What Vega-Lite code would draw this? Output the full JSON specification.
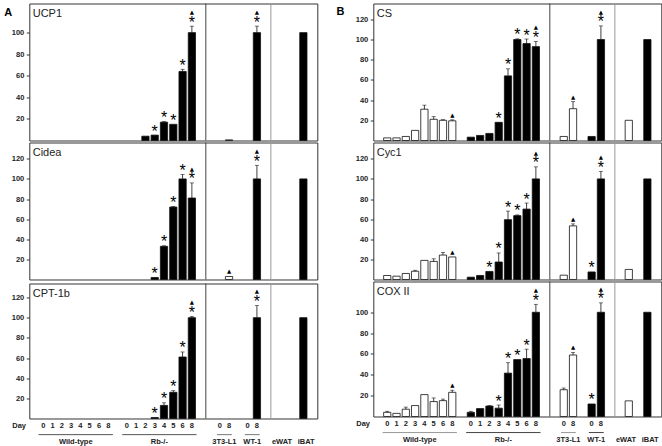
{
"$schema":"https://vega.github.io/schema/vega-lite/v6.json",
"padding":{"left":3.3,"top":2.5,"right":0,"bottom":0},
"config":{"view":{"stroke":"#333","strokeWidth":1},"font":"Liberation Sans",
 "axisY":{"labelFont":"Liberation Sans","labelFontSize":7.5,"labelFontWeight":"bold","labelColor":"#222","tickColor":"#333","tickSize":3,"labelPadding":2.5,"domain":false,"grid":false,"title":null,"labelOverlap":false,"tickCount":12},
 "text":{"font":"Liberation Sans","color":"#222"}},
"datasets":{
"A":[
{"g":"UCP1","c":"rb2","v":4,"h":4,"f":"f"},
{"g":"UCP1","c":"rb3","v":5,"h":5,"f":"f","s":1},
{"g":"UCP1","c":"rb4","v":17,"h":17.6,"f":"f","s":1},
{"g":"UCP1","c":"rb5","v":15,"h":15,"f":"f","s":1},
{"g":"UCP1","c":"rb6","v":64,"h":66,"f":"f","s":1},
{"g":"UCP1","c":"rb8","v":100,"h":106,"f":"f","s":1,"t":1},
{"g":"UCP1","c":"L8","v":0.6,"h":0.6,"f":"o"},
{"g":"UCP1","c":"W8","v":100,"h":106,"f":"f","s":1,"t":1},
{"g":"UCP1","c":"iBAT","v":100,"h":100,"f":"f"},
{"g":"Cidea","c":"rb3","v":2,"h":2,"f":"f","s":1},
{"g":"Cidea","c":"rb4","v":33,"h":33.5,"f":"f","s":1},
{"g":"Cidea","c":"rb5","v":72,"h":72.5,"f":"f","s":1},
{"g":"Cidea","c":"rb6","v":100,"h":104.5,"f":"f","s":1},
{"g":"Cidea","c":"rb8","v":81,"h":96,"f":"f","s":1,"t":1},
{"g":"Cidea","c":"L8","v":3,"h":3,"f":"o","t":1},
{"g":"Cidea","c":"W8","v":100,"h":113.5,"f":"f","s":1,"t":1},
{"g":"Cidea","c":"iBAT","v":100,"h":100,"f":"f"},
{"g":"CPT","c":"rb3","v":1,"h":1,"f":"f","s":1},
{"g":"CPT","c":"rb4","v":13,"h":15.6,"f":"f","s":1},
{"g":"CPT","c":"rb5","v":26,"h":27.6,"f":"f","s":1},
{"g":"CPT","c":"rb6","v":61,"h":66,"f":"f","s":1},
{"g":"CPT","c":"rb8","v":100,"h":101.3,"f":"f","s":1,"t":1},
{"g":"CPT","c":"W8","v":100,"h":112,"f":"f","s":1,"t":1},
{"g":"CPT","c":"iBAT","v":100,"h":100,"f":"f"}
],
"B":[
{"g":"CS","c":"wt0","v":2.6,"h":2.6,"f":"o"},
{"g":"CS","c":"wt1","v":2.6,"h":2.6,"f":"o"},
{"g":"CS","c":"wt2","v":4,"h":4,"f":"o"},
{"g":"CS","c":"wt3","v":10,"h":10,"f":"o"},
{"g":"CS","c":"wt4","v":31,"h":35,"f":"o"},
{"g":"CS","c":"wt5","v":21,"h":23.6,"f":"o"},
{"g":"CS","c":"wt6","v":20,"h":20.6,"f":"o"},
{"g":"CS","c":"wt8","v":19.5,"h":20.5,"f":"o","t":1},
{"g":"CS","c":"rb0","v":3.3,"h":3.3,"f":"f"},
{"g":"CS","c":"rb1","v":5,"h":5,"f":"f"},
{"g":"CS","c":"rb2","v":7,"h":7,"f":"f"},
{"g":"CS","c":"rb3","v":18,"h":18,"f":"f","s":1},
{"g":"CS","c":"rb4","v":64,"h":71,"f":"f","s":1},
{"g":"CS","c":"rb5","v":100,"h":100.7,"f":"f","s":1},
{"g":"CS","c":"rb6","v":96,"h":100.5,"f":"f","s":1},
{"g":"CS","c":"rb8","v":93,"h":98,"f":"f","s":1,"t":1},
{"g":"CS","c":"L0","v":4,"h":4,"f":"o"},
{"g":"CS","c":"L8","v":31.5,"h":38.5,"f":"o","t":1},
{"g":"CS","c":"W0","v":4,"h":4,"f":"f"},
{"g":"CS","c":"W8","v":100,"h":113.5,"f":"f","s":1,"t":1},
{"g":"CS","c":"eWAT","v":20,"h":20,"f":"o"},
{"g":"CS","c":"iBAT","v":100,"h":100,"f":"f"},
{"g":"Cyc1","c":"wt0","v":4,"h":4,"f":"o"},
{"g":"Cyc1","c":"wt1","v":3.3,"h":3.3,"f":"o"},
{"g":"Cyc1","c":"wt2","v":6,"h":6,"f":"o"},
{"g":"Cyc1","c":"wt3","v":8.2,"h":9.2,"f":"o"},
{"g":"Cyc1","c":"wt4","v":19,"h":19,"f":"o"},
{"g":"Cyc1","c":"wt5","v":18,"h":20.6,"f":"o"},
{"g":"Cyc1","c":"wt6","v":24.3,"h":26.9,"f":"o"},
{"g":"Cyc1","c":"wt8","v":22.4,"h":22.4,"f":"o","t":1},
{"g":"Cyc1","c":"rb0","v":2.3,"h":2.3,"f":"f"},
{"g":"Cyc1","c":"rb1","v":4,"h":4,"f":"f"},
{"g":"Cyc1","c":"rb2","v":8,"h":8,"f":"f","s":1},
{"g":"Cyc1","c":"rb3","v":17.4,"h":26.4,"f":"f","s":1},
{"g":"Cyc1","c":"rb4","v":59.5,"h":68,"f":"f","s":1},
{"g":"Cyc1","c":"rb5","v":63.5,"h":64.2,"f":"f","s":1},
{"g":"Cyc1","c":"rb6","v":70,"h":76,"f":"f","s":1},
{"g":"Cyc1","c":"rb8","v":100,"h":112,"f":"f","s":1,"t":1},
{"g":"Cyc1","c":"L0","v":4.3,"h":4.3,"f":"o"},
{"g":"Cyc1","c":"L8","v":53.3,"h":55.3,"f":"o","t":1},
{"g":"Cyc1","c":"W0","v":7.5,"h":7.5,"f":"f","s":1},
{"g":"Cyc1","c":"W8","v":100,"h":107.5,"f":"f","s":1,"t":1},
{"g":"Cyc1","c":"eWAT","v":10,"h":10,"f":"o"},
{"g":"Cyc1","c":"iBAT","v":100,"h":100,"f":"f"},
{"g":"COX","c":"wt0","v":4,"h":5,"f":"o"},
{"g":"COX","c":"wt1","v":3,"h":3,"f":"o"},
{"g":"COX","c":"wt2","v":7,"h":9,"f":"o"},
{"g":"COX","c":"wt3","v":10.5,"h":10.5,"f":"o"},
{"g":"COX","c":"wt4","v":21,"h":21,"f":"o"},
{"g":"COX","c":"wt5","v":14.3,"h":17.8,"f":"o"},
{"g":"COX","c":"wt6","v":15.2,"h":16.7,"f":"o"},
{"g":"COX","c":"wt8","v":23.2,"h":25.2,"f":"o","t":1},
{"g":"COX","c":"rb0","v":4,"h":5,"f":"f"},
{"g":"COX","c":"rb1","v":7.6,"h":7.6,"f":"f"},
{"g":"COX","c":"rb2","v":10,"h":10.6,"f":"f"},
{"g":"COX","c":"rb3","v":8,"h":11,"f":"f","s":1},
{"g":"COX","c":"rb4","v":41.6,"h":51.6,"f":"f","s":1},
{"g":"COX","c":"rb5","v":54.6,"h":54.6,"f":"f","s":1},
{"g":"COX","c":"rb6","v":55.6,"h":64.6,"f":"f","s":1},
{"g":"COX","c":"rb8","v":100,"h":107.6,"f":"f","s":1,"t":1},
{"g":"COX","c":"L0","v":25.7,"h":27.3,"f":"o"},
{"g":"COX","c":"L8","v":59,"h":61.5,"f":"o","t":1},
{"g":"COX","c":"W0","v":12,"h":12,"f":"f","s":1},
{"g":"COX","c":"W8","v":100,"h":109,"f":"f","s":1,"t":1},
{"g":"COX","c":"eWAT","v":15,"h":15,"f":"o"},
{"g":"COX","c":"iBAT","v":100,"h":100,"f":"f"}
],
"days":[{"c":"wt0","d":"0"},{"c":"wt1","d":"1"},{"c":"wt2","d":"2"},{"c":"wt3","d":"3"},{"c":"wt4","d":"4"},{"c":"wt5","d":"5"},{"c":"wt6","d":"6"},{"c":"wt8","d":"8"},{"c":"rb0","d":"0"},{"c":"rb1","d":"1"},{"c":"rb2","d":"2"},{"c":"rb3","d":"3"},{"c":"rb4","d":"4"},{"c":"rb5","d":"5"},{"c":"rb6","d":"6"},{"c":"rb8","d":"8"},{"c":"L0","d":"0"},{"c":"L8","d":"8"},{"c":"W0","d":"0"},{"c":"W8","d":"8"}],
"lines":[{"a":"wt0","b":"wt8"},{"a":"rb0","b":"rb8"}],
"lines2":[{"a":"L0","b":"L8"},{"a":"W0","b":"W8"}],
"grp":[{"c":"wt4","l":"Wild-type"},{"c":"rb4","l":"Rb-/-"},{"c":"L8","l":"3T3-L1"},{"c":"W8","l":"WT-1"}],
"ew":[{"c":"eWAT","l":"eWAT"}],
"ib":[{"c":"iBAT","l":"iBAT"}],
"first":[{"c":"a0"}],
"sep1":[{"c":"b0"}],
"sep2":[{"c":"c0"}]
},
"hconcat":[
{"spacing":0,"vconcat":[
 {"width":288,"height":137,"layer":[
  {"data":{"name":"A"},"transform":[{"filter":"datum.g==='UCP1'"}],"layer":[
   {"mark":{"type":"bar","width":{"band":0.78},"stroke":"#111","strokeWidth":0.8},"encoding":{"x":{"field":"c","type":"nominal","scale":{"domain":["a0","wt0","wt1","wt2","wt3","wt4","wt5","wt6","wt8","a9","rb0","rb1","rb2","rb3","rb4","rb5","rb6","rb8","a18","b0","L0","L8","b3","W0","W8","b6","c0","eWAT","c2","iBAT","c4"],"paddingInner":0,"paddingOuter":0},"axis":null},"y":{"field":"v","type":"quantitative","scale":{"domain":[0,127],"nice":false},"axis":{"values":[20,40,60,80,100],"tickCount":12,"labelOverlap":false}},"fill":{"field":"f","type":"nominal","scale":{"domain":["o","f"],"range":["#ffffff","#000000"]},"legend":null}}},
   {"transform":[{"filter":"datum.h>datum.v"}],"mark":{"type":"rule","color":"#111","strokeWidth":0.8},"encoding":{"x":{"field":"c","type":"nominal"},"y":{"field":"v","type":"quantitative"},"y2":{"field":"h"}}},
   {"transform":[{"filter":"datum.h>datum.v"}],"mark":{"type":"tick","color":"#111","size":4,"thickness":0.8},"encoding":{"x":{"field":"c","type":"nominal"},"y":{"field":"h","type":"quantitative"}}},
   {"transform":[{"filter":"datum.s"}],"mark":{"type":"text","text":"*","fontSize":16,"baseline":"alphabetic","dy":1.5,"color":"#000"},"encoding":{"x":{"field":"c","type":"nominal"},"y":{"field":"h","type":"quantitative"}}},
   {"transform":[{"filter":"datum.t && datum.s"}],"mark":{"type":"text","text":"▲","font":"DejaVu Sans","fontSize":5.5,"baseline":"alphabetic","dy":-12.2,"color":"#000"},"encoding":{"x":{"field":"c","type":"nominal"},"y":{"field":"h","type":"quantitative"}}},
   {"transform":[{"filter":"datum.t && !datum.s"}],"mark":{"type":"text","text":"▲","font":"DejaVu Sans","fontSize":5.5,"baseline":"alphabetic","dy":-3,"color":"#000"},"encoding":{"x":{"field":"c","type":"nominal"},"y":{"field":"h","type":"quantitative"}}}
  ]},
  {"data":{"name":"sep1"},"mark":{"type":"rule","color":"#444","strokeWidth":1},"encoding":{"x":{"field":"c","type":"nominal","bandPosition":0}}},
  {"data":{"name":"sep2"},"mark":{"type":"rule","color":"#999","strokeWidth":1},"encoding":{"x":{"field":"c","type":"nominal","bandPosition":0}}},
  {"data":{"name":"first"},"mark":{"type":"text","text":"UCP1","fontSize":11,"align":"left","baseline":"alphabetic","dx":3.4,"dy":13.2},"encoding":{"x":{"field":"c","type":"nominal","bandPosition":0},"y":{"datum":127,"type":"quantitative"}}},
  {"data":{"name":"first"},"mark":{"type":"text","text":"A","fontSize":11,"fontWeight":"bold","align":"left","baseline":"alphabetic","dx":-25,"dy":12,"color":"#000"},"encoding":{"x":{"field":"c","type":"nominal","bandPosition":0},"y":{"datum":127,"type":"quantitative"}}}
 ]},
 {"width":288,"height":137,"layer":[
  {"data":{"name":"A"},"transform":[{"filter":"datum.g==='Cidea'"}],"layer":[
   {"mark":{"type":"bar","width":{"band":0.78},"stroke":"#111","strokeWidth":0.8},"encoding":{"x":{"field":"c","type":"nominal","scale":{"domain":["a0","wt0","wt1","wt2","wt3","wt4","wt5","wt6","wt8","a9","rb0","rb1","rb2","rb3","rb4","rb5","rb6","rb8","a18","b0","L0","L8","b3","W0","W8","b6","c0","eWAT","c2","iBAT","c4"],"paddingInner":0,"paddingOuter":0},"axis":null},"y":{"field":"v","type":"quantitative","scale":{"domain":[0,136.2],"nice":false},"axis":{"values":[20,40,60,80,100,120],"tickCount":12,"labelOverlap":false}},"fill":{"field":"f","type":"nominal","scale":{"domain":["o","f"],"range":["#ffffff","#000000"]},"legend":null}}},
   {"transform":[{"filter":"datum.h>datum.v"}],"mark":{"type":"rule","color":"#111","strokeWidth":0.8},"encoding":{"x":{"field":"c","type":"nominal"},"y":{"field":"v","type":"quantitative"},"y2":{"field":"h"}}},
   {"transform":[{"filter":"datum.h>datum.v"}],"mark":{"type":"tick","color":"#111","size":4,"thickness":0.8},"encoding":{"x":{"field":"c","type":"nominal"},"y":{"field":"h","type":"quantitative"}}},
   {"transform":[{"filter":"datum.s"}],"mark":{"type":"text","text":"*","fontSize":16,"baseline":"alphabetic","dy":1.5,"color":"#000"},"encoding":{"x":{"field":"c","type":"nominal"},"y":{"field":"h","type":"quantitative"}}},
   {"transform":[{"filter":"datum.t && datum.s"}],"mark":{"type":"text","text":"▲","font":"DejaVu Sans","fontSize":5.5,"baseline":"alphabetic","dy":-12.2,"color":"#000"},"encoding":{"x":{"field":"c","type":"nominal"},"y":{"field":"h","type":"quantitative"}}},
   {"transform":[{"filter":"datum.t && !datum.s"}],"mark":{"type":"text","text":"▲","font":"DejaVu Sans","fontSize":5.5,"baseline":"alphabetic","dy":-3,"color":"#000"},"encoding":{"x":{"field":"c","type":"nominal"},"y":{"field":"h","type":"quantitative"}}}
  ]},
  {"data":{"name":"sep1"},"mark":{"type":"rule","color":"#444","strokeWidth":1},"encoding":{"x":{"field":"c","type":"nominal","bandPosition":0}}},
  {"data":{"name":"sep2"},"mark":{"type":"rule","color":"#999","strokeWidth":1},"encoding":{"x":{"field":"c","type":"nominal","bandPosition":0}}},
  {"data":{"name":"first"},"mark":{"type":"text","text":"Cidea","fontSize":11,"align":"left","baseline":"alphabetic","dx":3.4,"dy":13.2},"encoding":{"x":{"field":"c","type":"nominal","bandPosition":0},"y":{"datum":136.2,"type":"quantitative"}}}
 ]},
 {"width":288,"height":135,"layer":[
  {"data":{"name":"A"},"transform":[{"filter":"datum.g==='CPT'"}],"layer":[
   {"mark":{"type":"bar","width":{"band":0.78},"stroke":"#111","strokeWidth":0.8},"encoding":{"x":{"field":"c","type":"nominal","scale":{"domain":["a0","wt0","wt1","wt2","wt3","wt4","wt5","wt6","wt8","a9","rb0","rb1","rb2","rb3","rb4","rb5","rb6","rb8","a18","b0","L0","L8","b3","W0","W8","b6","c0","eWAT","c2","iBAT","c4"],"paddingInner":0,"paddingOuter":0},"axis":null},"y":{"field":"v","type":"quantitative","scale":{"domain":[0,133.9],"nice":false},"axis":{"values":[20,40,60,80,100,120],"tickCount":12,"labelOverlap":false}},"fill":{"field":"f","type":"nominal","scale":{"domain":["o","f"],"range":["#ffffff","#000000"]},"legend":null}}},
   {"transform":[{"filter":"datum.h>datum.v"}],"mark":{"type":"rule","color":"#111","strokeWidth":0.8},"encoding":{"x":{"field":"c","type":"nominal"},"y":{"field":"v","type":"quantitative"},"y2":{"field":"h"}}},
   {"transform":[{"filter":"datum.h>datum.v"}],"mark":{"type":"tick","color":"#111","size":4,"thickness":0.8},"encoding":{"x":{"field":"c","type":"nominal"},"y":{"field":"h","type":"quantitative"}}},
   {"transform":[{"filter":"datum.s"}],"mark":{"type":"text","text":"*","fontSize":16,"baseline":"alphabetic","dy":1.5,"color":"#000"},"encoding":{"x":{"field":"c","type":"nominal"},"y":{"field":"h","type":"quantitative"}}},
   {"transform":[{"filter":"datum.t && datum.s"}],"mark":{"type":"text","text":"▲","font":"DejaVu Sans","fontSize":5.5,"baseline":"alphabetic","dy":-12.2,"color":"#000"},"encoding":{"x":{"field":"c","type":"nominal"},"y":{"field":"h","type":"quantitative"}}},
   {"transform":[{"filter":"datum.t && !datum.s"}],"mark":{"type":"text","text":"▲","font":"DejaVu Sans","fontSize":5.5,"baseline":"alphabetic","dy":-3,"color":"#000"},"encoding":{"x":{"field":"c","type":"nominal"},"y":{"field":"h","type":"quantitative"}}}
  ]},
  {"data":{"name":"sep1"},"mark":{"type":"rule","color":"#444","strokeWidth":1},"encoding":{"x":{"field":"c","type":"nominal","bandPosition":0}}},
  {"data":{"name":"sep2"},"mark":{"type":"rule","color":"#999","strokeWidth":1},"encoding":{"x":{"field":"c","type":"nominal","bandPosition":0}}},
  {"data":{"name":"first"},"mark":{"type":"text","text":"CPT-1b","fontSize":11,"align":"left","baseline":"alphabetic","dx":3.4,"dy":13.2},"encoding":{"x":{"field":"c","type":"nominal","bandPosition":0},"y":{"datum":133.9,"type":"quantitative"}}},
  {"data":{"name":"days"},"mark":{"type":"text","fontSize":7.5,"fontWeight":"bold","baseline":"alphabetic","dy":9.7},"encoding":{"x":{"field":"c","type":"nominal"},"y":{"datum":0,"type":"quantitative"},"text":{"field":"d"}}},
  {"data":{"name":"first"},"mark":{"type":"text","text":"Day","fontSize":7.5,"fontWeight":"bold","align":"right","baseline":"alphabetic","dx":-3.3,"dy":9.7},"encoding":{"x":{"field":"c","type":"nominal","bandPosition":0},"y":{"datum":0,"type":"quantitative"}}},
  {"data":{"name":"lines"},"mark":{"type":"rule","color":"#555","strokeWidth":1},"encoding":{"x":{"field":"a","type":"nominal","bandPosition":0},"x2":{"field":"b","bandPosition":1},"y":{"datum":-16,"type":"quantitative"}}},
  {"data":{"name":"lines2"},"mark":{"type":"rule","color":"#777","strokeWidth":1},"encoding":{"x":{"field":"a","type":"nominal","bandPosition":0.2},"x2":{"field":"b","bandPosition":0.8},"y":{"datum":-16,"type":"quantitative"}}},
  {"data":{"name":"grp"},"mark":{"type":"text","fontSize":7.5,"fontWeight":"bold","baseline":"alphabetic","dy":25.5},"encoding":{"x":{"field":"c","type":"nominal","bandPosition":0},"y":{"datum":0,"type":"quantitative"},"text":{"field":"l"}}},
  {"data":{"name":"ew"},"mark":{"type":"text","fontSize":7.5,"fontWeight":"bold","baseline":"alphabetic","dy":25.5},"encoding":{"x":{"field":"c","type":"nominal","bandPosition":0.2},"y":{"datum":0,"type":"quantitative"},"text":{"field":"l"}}},
  {"data":{"name":"ib"},"mark":{"type":"text","fontSize":7.5,"fontWeight":"bold","baseline":"alphabetic","dy":25.5},"encoding":{"x":{"field":"c","type":"nominal","bandPosition":0.8},"y":{"datum":0,"type":"quantitative"},"text":{"field":"l"}}}
 ]}
]},
{"spacing":0,"vconcat":[
 {"width":288,"height":137,"layer":[
  {"data":{"name":"B"},"transform":[{"filter":"datum.g==='CS'"}],"layer":[
   {"mark":{"type":"bar","width":{"band":0.78},"stroke":"#111","strokeWidth":0.8},"encoding":{"x":{"field":"c","type":"nominal","scale":{"domain":["a0","wt0","wt1","wt2","wt3","wt4","wt5","wt6","wt8","a9","rb0","rb1","rb2","rb3","rb4","rb5","rb6","rb8","a18","b0","L0","L8","b3","W0","W8","b6","c0","eWAT","c2","iBAT","c4"],"paddingInner":0,"paddingOuter":0},"axis":null},"y":{"field":"v","type":"quantitative","scale":{"domain":[0,135.7],"nice":false},"axis":{"values":[20,40,60,80,100,120],"tickCount":12,"labelOverlap":false}},"fill":{"field":"f","type":"nominal","scale":{"domain":["o","f"],"range":["#ffffff","#000000"]},"legend":null}}},
   {"transform":[{"filter":"datum.h>datum.v"}],"mark":{"type":"rule","color":"#111","strokeWidth":0.8},"encoding":{"x":{"field":"c","type":"nominal"},"y":{"field":"v","type":"quantitative"},"y2":{"field":"h"}}},
   {"transform":[{"filter":"datum.h>datum.v"}],"mark":{"type":"tick","color":"#111","size":4,"thickness":0.8},"encoding":{"x":{"field":"c","type":"nominal"},"y":{"field":"h","type":"quantitative"}}},
   {"transform":[{"filter":"datum.s"}],"mark":{"type":"text","text":"*","fontSize":16,"baseline":"alphabetic","dy":1.5,"color":"#000"},"encoding":{"x":{"field":"c","type":"nominal"},"y":{"field":"h","type":"quantitative"}}},
   {"transform":[{"filter":"datum.t && datum.s"}],"mark":{"type":"text","text":"▲","font":"DejaVu Sans","fontSize":5.5,"baseline":"alphabetic","dy":-12.2,"color":"#000"},"encoding":{"x":{"field":"c","type":"nominal"},"y":{"field":"h","type":"quantitative"}}},
   {"transform":[{"filter":"datum.t && !datum.s"}],"mark":{"type":"text","text":"▲","font":"DejaVu Sans","fontSize":5.5,"baseline":"alphabetic","dy":-3,"color":"#000"},"encoding":{"x":{"field":"c","type":"nominal"},"y":{"field":"h","type":"quantitative"}}}
  ]},
  {"data":{"name":"sep1"},"mark":{"type":"rule","color":"#444","strokeWidth":1},"encoding":{"x":{"field":"c","type":"nominal","bandPosition":0}}},
  {"data":{"name":"sep2"},"mark":{"type":"rule","color":"#999","strokeWidth":1},"encoding":{"x":{"field":"c","type":"nominal","bandPosition":0}}},
  {"data":{"name":"first"},"mark":{"type":"text","text":"CS","fontSize":11,"align":"left","baseline":"alphabetic","dx":3.4,"dy":13.2},"encoding":{"x":{"field":"c","type":"nominal","bandPosition":0},"y":{"datum":135.7,"type":"quantitative"}}},
  {"data":{"name":"first"},"mark":{"type":"text","text":"B","fontSize":11,"fontWeight":"bold","align":"left","baseline":"alphabetic","dx":-36.7,"dy":11,"color":"#000"},"encoding":{"x":{"field":"c","type":"nominal","bandPosition":0},"y":{"datum":135.7,"type":"quantitative"}}}
 ]},
 {"width":288,"height":137,"layer":[
  {"data":{"name":"B"},"transform":[{"filter":"datum.g==='Cyc1'"}],"layer":[
   {"mark":{"type":"bar","width":{"band":0.78},"stroke":"#111","strokeWidth":0.8},"encoding":{"x":{"field":"c","type":"nominal","scale":{"domain":["a0","wt0","wt1","wt2","wt3","wt4","wt5","wt6","wt8","a9","rb0","rb1","rb2","rb3","rb4","rb5","rb6","rb8","a18","b0","L0","L8","b3","W0","W8","b6","c0","eWAT","c2","iBAT","c4"],"paddingInner":0,"paddingOuter":0},"axis":null},"y":{"field":"v","type":"quantitative","scale":{"domain":[0,136.2],"nice":false},"axis":{"values":[20,40,60,80,100,120],"tickCount":12,"labelOverlap":false}},"fill":{"field":"f","type":"nominal","scale":{"domain":["o","f"],"range":["#ffffff","#000000"]},"legend":null}}},
   {"transform":[{"filter":"datum.h>datum.v"}],"mark":{"type":"rule","color":"#111","strokeWidth":0.8},"encoding":{"x":{"field":"c","type":"nominal"},"y":{"field":"v","type":"quantitative"},"y2":{"field":"h"}}},
   {"transform":[{"filter":"datum.h>datum.v"}],"mark":{"type":"tick","color":"#111","size":4,"thickness":0.8},"encoding":{"x":{"field":"c","type":"nominal"},"y":{"field":"h","type":"quantitative"}}},
   {"transform":[{"filter":"datum.s"}],"mark":{"type":"text","text":"*","fontSize":16,"baseline":"alphabetic","dy":1.5,"color":"#000"},"encoding":{"x":{"field":"c","type":"nominal"},"y":{"field":"h","type":"quantitative"}}},
   {"transform":[{"filter":"datum.t && datum.s"}],"mark":{"type":"text","text":"▲","font":"DejaVu Sans","fontSize":5.5,"baseline":"alphabetic","dy":-12.2,"color":"#000"},"encoding":{"x":{"field":"c","type":"nominal"},"y":{"field":"h","type":"quantitative"}}},
   {"transform":[{"filter":"datum.t && !datum.s"}],"mark":{"type":"text","text":"▲","font":"DejaVu Sans","fontSize":5.5,"baseline":"alphabetic","dy":-3,"color":"#000"},"encoding":{"x":{"field":"c","type":"nominal"},"y":{"field":"h","type":"quantitative"}}}
  ]},
  {"data":{"name":"sep1"},"mark":{"type":"rule","color":"#444","strokeWidth":1},"encoding":{"x":{"field":"c","type":"nominal","bandPosition":0}}},
  {"data":{"name":"sep2"},"mark":{"type":"rule","color":"#999","strokeWidth":1},"encoding":{"x":{"field":"c","type":"nominal","bandPosition":0}}},
  {"data":{"name":"first"},"mark":{"type":"text","text":"Cyc1","fontSize":11,"align":"left","baseline":"alphabetic","dx":3.4,"dy":13.2},"encoding":{"x":{"field":"c","type":"nominal","bandPosition":0},"y":{"datum":136.2,"type":"quantitative"}}}
 ]},
 {"width":288,"height":135,"layer":[
  {"data":{"name":"B"},"transform":[{"filter":"datum.g==='COX'"}],"layer":[
   {"mark":{"type":"bar","width":{"band":0.78},"stroke":"#111","strokeWidth":0.8},"encoding":{"x":{"field":"c","type":"nominal","scale":{"domain":["a0","wt0","wt1","wt2","wt3","wt4","wt5","wt6","wt8","a9","rb0","rb1","rb2","rb3","rb4","rb5","rb6","rb8","a18","b0","L0","L8","b3","W0","W8","b6","c0","eWAT","c2","iBAT","c4"],"paddingInner":0,"paddingOuter":0},"axis":null},"y":{"field":"v","type":"quantitative","scale":{"domain":[0,129.5],"nice":false},"axis":{"values":[20,40,60,80,100],"tickCount":12,"labelOverlap":false}},"fill":{"field":"f","type":"nominal","scale":{"domain":["o","f"],"range":["#ffffff","#000000"]},"legend":null}}},
   {"transform":[{"filter":"datum.h>datum.v"}],"mark":{"type":"rule","color":"#111","strokeWidth":0.8},"encoding":{"x":{"field":"c","type":"nominal"},"y":{"field":"v","type":"quantitative"},"y2":{"field":"h"}}},
   {"transform":[{"filter":"datum.h>datum.v"}],"mark":{"type":"tick","color":"#111","size":4,"thickness":0.8},"encoding":{"x":{"field":"c","type":"nominal"},"y":{"field":"h","type":"quantitative"}}},
   {"transform":[{"filter":"datum.s"}],"mark":{"type":"text","text":"*","fontSize":16,"baseline":"alphabetic","dy":1.5,"color":"#000"},"encoding":{"x":{"field":"c","type":"nominal"},"y":{"field":"h","type":"quantitative"}}},
   {"transform":[{"filter":"datum.t && datum.s"}],"mark":{"type":"text","text":"▲","font":"DejaVu Sans","fontSize":5.5,"baseline":"alphabetic","dy":-12.2,"color":"#000"},"encoding":{"x":{"field":"c","type":"nominal"},"y":{"field":"h","type":"quantitative"}}},
   {"transform":[{"filter":"datum.t && !datum.s"}],"mark":{"type":"text","text":"▲","font":"DejaVu Sans","fontSize":5.5,"baseline":"alphabetic","dy":-3,"color":"#000"},"encoding":{"x":{"field":"c","type":"nominal"},"y":{"field":"h","type":"quantitative"}}}
  ]},
  {"data":{"name":"sep1"},"mark":{"type":"rule","color":"#444","strokeWidth":1},"encoding":{"x":{"field":"c","type":"nominal","bandPosition":0}}},
  {"data":{"name":"sep2"},"mark":{"type":"rule","color":"#999","strokeWidth":1},"encoding":{"x":{"field":"c","type":"nominal","bandPosition":0}}},
  {"data":{"name":"first"},"mark":{"type":"text","text":"COX II","fontSize":11,"align":"left","baseline":"alphabetic","dx":3.4,"dy":13.2},"encoding":{"x":{"field":"c","type":"nominal","bandPosition":0},"y":{"datum":129.5,"type":"quantitative"}}},
  {"data":{"name":"days"},"mark":{"type":"text","fontSize":7.5,"fontWeight":"bold","baseline":"alphabetic","dy":9.7},"encoding":{"x":{"field":"c","type":"nominal"},"y":{"datum":0,"type":"quantitative"},"text":{"field":"d"}}},
  {"data":{"name":"first"},"mark":{"type":"text","text":"Day","fontSize":7.5,"fontWeight":"bold","align":"right","baseline":"alphabetic","dx":-3.3,"dy":9.7},"encoding":{"x":{"field":"c","type":"nominal","bandPosition":0},"y":{"datum":0,"type":"quantitative"}}},
  {"data":{"name":"lines"},"mark":{"type":"rule","strokeWidth":1},"encoding":{"x":{"field":"a","type":"nominal","bandPosition":0},"x2":{"field":"b","bandPosition":1},"y":{"datum":-15.4,"type":"quantitative"},"color":{"condition":{"test":"datum.a==='wt0'","value":"#999"},"value":"#444"}}},
  {"data":{"name":"lines2"},"mark":{"type":"rule","strokeWidth":1},"encoding":{"x":{"field":"a","type":"nominal","bandPosition":0.2},"x2":{"field":"b","bandPosition":0.8},"y":{"datum":-15.4,"type":"quantitative"},"color":{"condition":{"test":"datum.a==='L0'","value":"#999"},"value":"#444"}}},
  {"data":{"name":"grp"},"mark":{"type":"text","fontSize":7.5,"fontWeight":"bold","baseline":"alphabetic","dy":25.5},"encoding":{"x":{"field":"c","type":"nominal","bandPosition":0},"y":{"datum":0,"type":"quantitative"},"text":{"field":"l"}}},
  {"data":{"name":"ew"},"mark":{"type":"text","fontSize":7.5,"fontWeight":"bold","baseline":"alphabetic","dy":25.5},"encoding":{"x":{"field":"c","type":"nominal","bandPosition":0.2},"y":{"datum":0,"type":"quantitative"},"text":{"field":"l"}}},
  {"data":{"name":"ib"},"mark":{"type":"text","fontSize":7.5,"fontWeight":"bold","baseline":"alphabetic","dy":25.5},"encoding":{"x":{"field":"c","type":"nominal","bandPosition":0.8},"y":{"datum":0,"type":"quantitative"},"text":{"field":"l"}}}
 ]}
]}
],
"spacing":17
}
